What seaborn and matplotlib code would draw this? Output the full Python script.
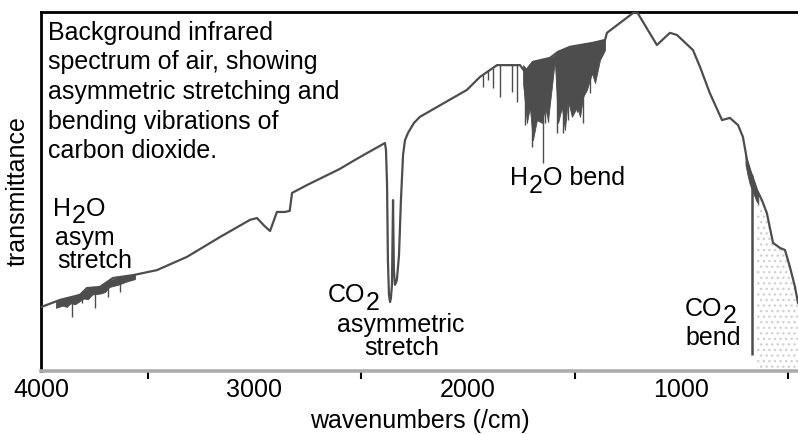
import numpy as np
import pandas as pd
import matplotlib
matplotlib.use("Agg")
import matplotlib.pyplot as plt
from matplotlib.ticker import MultipleLocator, NullFormatter
import seaborn as sns

# ---- data ----
base_wn = [4000, 3911, 3817, 3785, 3724, 3663, 3569, 3457, 3316, 3162, 3021, 2988,
           2955, 2927, 2895, 2857, 2835, 2824, 2754, 2600, 2529, 2473, 2389, 2384,
           2379, 2375, 2370, 2365, 2361, 2356, 2351, 2347, 2342, 2333, 2323, 2314,
           2304, 2295, 2281, 2253, 2225, 2005, 1944, 1864, 1756, 1733, 1696, 1616,
           1578, 1522, 1415, 1358, 1349, 1227, 1208, 1115, 1054, 1021, 946, 913,
           867, 810, 773, 735, 712, 693, 679, 646, 623, 600, 571, 539, 515, 492,
           468, 454]
base_t = [17.8, 19.8, 21.2, 23.1, 23.4, 25.9, 26.7, 28.1, 31.8, 37.3, 42.1, 42.6,
          40.5, 39.0, 44.3, 44.3, 44.6, 49.6, 51.8, 56.3, 58.8, 60.7, 63.5, 61.6,
          51.8, 30.9, 21.2, 19.2, 20.3, 24.0, 47.6, 28.1, 24.0, 25.3, 32.3, 47.6,
          60.2, 64.3, 66.3, 69.1, 70.8, 78.3, 81.9, 85.2, 85.2, 83.3, 86.1, 87.2,
          88.9, 90.3, 91.4, 92.2, 94.2, 99.7, 100.0, 90.8, 94.2, 93.6, 89.4, 84.7,
          77.4, 69.9, 70.5, 68.5, 65.2, 58.8, 56.0, 50.4, 47.6, 44.0, 35.7, 34.3,
          33.7, 29.0, 23.4, 18.9]

# dense water-line bands (upper / lower envelopes)
h2o_str_wn = [3930, 3900, 3880, 3860, 3840, 3800, 3780, 3760, 3720, 3700, 3680,
              3640, 3600, 3560]
h2o_str_up = [19.4, 19.9, 20.3, 20.6, 20.9, 22.2, 23.0, 23.2, 23.5, 24.3, 25.2,
              26.1, 26.4, 26.8]
h2o_str_lo = [17.6, 18.2, 17.9, 18.9, 18.6, 20.2, 20.0, 21.3, 21.6, 22.0, 23.4,
              24.0, 24.9, 25.6]

h2o_bend_wn = [1742, 1724, 1710, 1696, 1677, 1653, 1639, 1625, 1607, 1593, 1578,
               1560, 1546, 1532, 1513, 1489, 1475, 1461, 1443, 1419, 1405, 1382,
               1358]
h2o_bend_up = [85.2, 84.0, 85.5, 86.1, 86.4, 86.7, 86.9, 87.0, 87.4, 88.0, 88.9,
               89.3, 89.7, 90.1, 90.4, 90.7, 90.9, 91.0, 91.2, 91.4, 91.6, 92.0,
               92.2]
h2o_bend_lo = [80.2, 69.1, 73.5, 64.3, 69.9, 69.1, 73.5, 69.9, 79.1, 86.6, 69.1,
               73.5, 67.1, 75.5, 70.8, 73.5, 70.8, 76.3, 78.3, 83.0, 80.2, 86.6,
               89.4]

co2_bend_wn = [700, 690, 680, 670, 660, 650, 640]
co2_bend_up = [60.6, 58.2, 56.2, 54.5, 52.8, 51.0, 49.5]
co2_bend_lo = [57.5, 54.5, 52.0, 50.5, 49.0, 47.5, 46.5]

# individual absorption lines
spike_wn = [3902, 3878, 3855, 3808, 3747, 3686, 3630, 1930, 1906, 1883, 1850, 1794,
            1770, 1733, 1700, 1649, 1639, 1625, 1583, 1555, 1532, 1489, 1461, 1429,
            1396]
spike_top = [20.0, 20.2, 20.6, 21.5, 23.3, 25.0, 26.1, 82.5, 83.5, 84.3, 85.2, 85.2,
             85.2, 83.3, 86.1, 86.6, 86.6, 86.9, 88.7, 89.5, 90.1, 90.7, 91.0, 91.3,
             91.8]
spike_tip = [18.4, 17.8, 15.0, 18.9, 17.5, 20.6, 22.0, 79.1, 81.0, 78.8, 76.3, 77.7,
             74.9, 68.5, 62.4, 57.9, 69.1, 69.4, 66.3, 66.3, 69.9, 72.1, 69.1, 77.4,
             84.7]

bend_wn = [670]
bend_top = [54.5]
bend_tip = [4.5]

stipple_from = 646

major_ticks = [4000, 3000, 2000, 1000]
major_labels = ["4000", "3000", "2000", "1000"]
half_ticks = [3500, 2500, 1500, 500]

# ---- style ----
sns.set_style("white")
plt.rcParams["font.family"] = ["Liberation Sans", "DejaVu Sans"]
plt.rcParams["text.color"] = "black"
plt.rcParams["axes.labelcolor"] = "black"
plt.rcParams["hatch.linewidth"] = 1.0
FS = 18
LINE = "#4d4d4d"

fig = plt.figure(figsize=(7.98, 4.34), dpi=100)
ax = fig.add_axes([41 / 798, 63 / 434, 757 / 798, 359 / 434])

# stippled area under the far-IR edge
swn = np.array(base_wn)
st = np.array(base_t)
m = swn <= stipple_from
ax.fill_between(swn[m], 0, st[m], facecolor="none", edgecolor="#d2d2d2",
                hatch="...", linewidth=0, zorder=1)

df = pd.DataFrame({"wavenumber": base_wn, "transmittance": base_t})
sns.lineplot(data=df, x="wavenumber", y="transmittance", ax=ax, color=LINE,
             linewidth=1.6, estimator=None, zorder=3)

for wn, up, lo in [(h2o_str_wn, h2o_str_up, h2o_str_lo),
                   (h2o_bend_wn, h2o_bend_up, h2o_bend_lo),
                   (co2_bend_wn, co2_bend_up, co2_bend_lo)]:
    ax.fill_between(wn, lo, up, color=LINE, linewidth=0.6, zorder=3)

ax.vlines(spike_wn, spike_tip, spike_top, color=LINE, linewidth=1.0, zorder=3)
ax.vlines(bend_wn, bend_tip, bend_top, color=LINE, linewidth=1.8, zorder=3)

ax.set_xlim(4000, 454)
ax.set_ylim(0, 100)

# spines
for s in ["top", "left"]:
    ax.spines[s].set_color("black")
    ax.spines[s].set_linewidth(2)
ax.spines["right"].set_visible(False)
ax.spines["bottom"].set_color("#acacac")
ax.spines["bottom"].set_linewidth(2.6)

# x ticks
ax.set_xticks(major_ticks)
ax.set_xticklabels(major_labels)
ax.xaxis.set_minor_locator(MultipleLocator(100))
ax.tick_params(axis="x", which="major", direction="in", length=11, width=1.5,
               color="black", labelsize=FS, pad=5, labelcolor="black")
ax.tick_params(axis="x", which="minor", direction="inout", length=2.5, width=1.8,
               color="black")
sec = ax.secondary_xaxis("bottom")
sec.set_xticks(half_ticks)
sec.xaxis.set_major_formatter(NullFormatter())
sec.tick_params(axis="x", direction="out", length=6, width=1.5, color="black")
sec.spines["bottom"].set_visible(False)

# y ticks
ax.yaxis.set_major_locator(MultipleLocator(5))
ax.yaxis.set_minor_locator(MultipleLocator(5 / 3))
ax.yaxis.set_major_formatter(NullFormatter())
ax.tick_params(axis="y", which="major", direction="inout", length=4, width=1.5,
               color="black")
ax.tick_params(axis="y", which="minor", direction="inout", length=2, width=1,
               color="black")

ax.set_xlabel("wavenumbers (/cm)", fontsize=FS, color="black")
ax.set_ylabel("transmittance", fontsize=FS, color="black")
ax.xaxis.set_label_coords(0.5, -0.106)
ax.yaxis.set_label_coords(-0.015, 0.5)


def chem(x, y, parts, drop=5.8):
    """Text made of pieces; level -1 drops a piece by a subscript step."""
    first, lvl = parts[0]
    t = ax.text(x, y, first, fontsize=FS, ha="left", va="baseline",
                color="black")
    prev_lvl = lvl
    for txt, lvl in parts[1:]:
        dy = (lvl - prev_lvl) * drop
        t = ax.annotate(txt, xy=(1, 0), xycoords=t, xytext=(0.5, dy),
                        textcoords="offset points", ha="left", va="bottom",
                        fontsize=FS, color="black")
        prev_lvl = lvl
    return t


ax.text(3967, 97.6, "Background infrared\nspectrum of air, showing\n"
        "asymmetric stretching and\nbending vibrations of\ncarbon dioxide.",
        fontsize=FS, ha="left", va="top", color="black", linespacing=1.3)

chem(3944, 43.2, [("H", 0), ("2", -1), ("O", 0)], drop=4.8)
ax.text(3934, 35.2, "asym", fontsize=FS, ha="left", va="baseline", color="black")
ax.text(3925, 28.8, "stretch", fontsize=FS, ha="left", va="baseline", color="black")

chem(2656, 19.2, [("CO", 0), ("2", -1)])
ax.text(2314, 10.9, "asymmetric", fontsize=FS, ha="center", va="baseline",
        color="black")
ax.text(2309, 4.5, "stretch", fontsize=FS, ha="center", va="baseline",
        color="black")

chem(1803, 51.8, [("H", 0), ("2", -1), ("O bend", 0)])

chem(984, 15.3, [("CO", 0), ("2", -1)], drop=5.0)
ax.text(980, 7.2, "bend", fontsize=FS, ha="left", va="baseline", color="black")

fig.savefig("out.png", dpi=100)
